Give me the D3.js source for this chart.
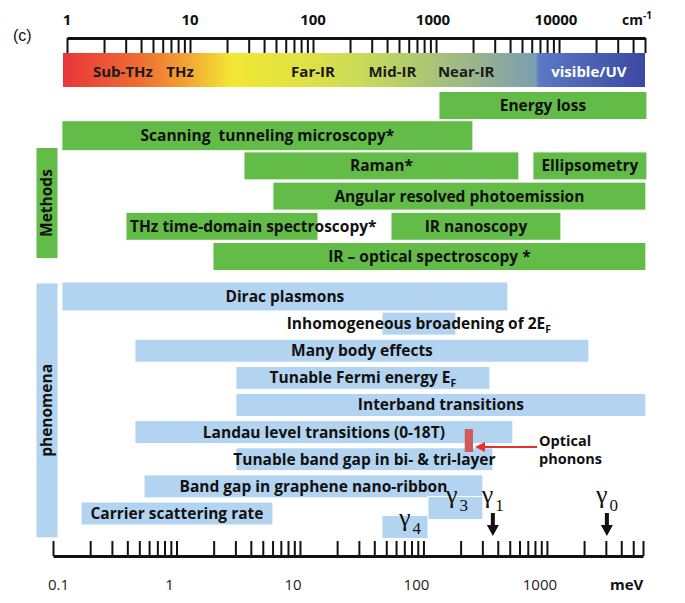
<!DOCTYPE html>
<html><head><meta charset="utf-8">
<script src="https://cdn.jsdelivr.net/npm/d3@7"></script>
<style>body{margin:0;background:#fff} svg{display:block}</style>
</head><body><svg id="c" width="685" height="603"></svg>
<script>
// ---------- data ----------
const cmTickValues = [1, 10, 100, 1000, 10000];
const cmTickLabels = ["1", "10", "100", "1000", "10000"];
const cmMax = 50000;
const meVTickValues = [0.1, 1, 10, 100, 1000];
const meVTickLabels = ["0.1", "1", "10", "100", "1000"];
const meVMax = 6000;

const bandNames = ["Sub-THz", "THz", "Far-IR", "Mid-IR", "Near-IR", "visible/UV"];
const bandCenters = [2.85, 8.3, 100, 442, 1760, 17500]; // cm^-1

const methodNames = ["Energy loss", "Scanning  tunneling microscopy*", "Raman*", "Ellipsometry",
  "Angular resolved photoemission", "THz time-domain spectroscopy*", "IR nanoscopy", "IR \u2013 optical spectroscopy *"];
const methodFrom = [133.5, 0.118, 3.52, 770, 6.04, 0.39, 54.6, 1.975];   // meV
const methodTo   = [6455, 251.6, 593, 6455, 6333, 14.0, 1298, 6333];     // meV
const methodRow  = [0, 1, 2, 2, 3, 4, 4, 5];

const phenNames = ["Dirac plasmons", "Inhomogeneous broadening of 2E_F", "Many body effects",
  "Tunable Fermi energy E_F", "Interband transitions", "Landau level transitions (0-18T)",
  "Tunable band gap in bi- & tri-layer", "Band gap in graphene nano-ribbon", "Carrier scattering rate", "", ""];
const phenFrom = [0.118, 46.1, 0.461, 3.03, 3.03, 0.461, 3.03, 0.546, 0.1686, 108.7, 46.1];
const phenTo   = [483, 183, 2188, 345.5, 6333, 530, 365, 303, 6.04, 303, 108.7];
const phenRow  = [0, 1, 2, 3, 4, 5, 6, 7, 8, 7.8, 8.5];

const groupNames = ["Methods", "phenomena"];

const phononFrom = 216, phononTo = 252, phononRow = 5.31;

const gammaSubs = ["4", "3", "1", "0"];
const gammaEnergy = [78, 187, 365, 3060]; // meV
const gammaArrow = [false, false, true, true];

// ---------- drawing ----------
const svg = d3.select("#c");
const FONT = "'Open Sans', Lato, sans-serif";
const GREEN = "#63bc47", BLUE = "#b3d4f0";
const FS = 15.5;

const xTop = d3.scaleLog().domain([1, cmMax]).range([67, 645]);
const xBot = d3.scaleLog().domain([0.1, meVMax]).range([53, 643]);
const yMeth = d3.scaleLinear().domain([0, 5]).range([105.5, 256.5]);
const yPhen = d3.scaleLinear().domain([0, 8]).range([296.5, 513.5]);

function minorTicks(majors, max) {
  const out = [];
  majors.forEach(d => { for (let k = 1; k <= 9; k++) { const v = d * k; if (v <= max * 1.0001) out.push(v); } });
  return out;
}

// (c)
svg.append("text").attr("x", 13).attr("y", 41).attr("font-family", "'Liberation Sans', Arial, sans-serif")
  .attr("font-size", 16).attr("fill", "#111").text("(c)");

// colour bar
const defs = svg.append("defs");
const grad = defs.append("linearGradient").attr("id", "spec").attr("x1", "0%").attr("x2", "100%");
[[0, "#e8363a"], [0.13, "#ee6c33"], [0.21, "#f3a233"], [0.29, "#f2e733"], [0.42, "#dde245"],
 [0.52, "#c8da5c"], [0.6, "#b1cb6d"], [0.7, "#9bb689"], [0.8, "#7fa0ad"], [0.812, "#7c9db2"],
 [0.818, "#5a79c4"], [1, "#3b48a3"]].forEach(s => grad.append("stop").attr("offset", s[0]).attr("stop-color", s[1]));
const cbX0 = xTop.range()[0] - 4, cbX1 = xTop.range()[1];
svg.append("rect").attr("x", cbX0).attr("y", 53).attr("width", cbX1 - cbX0).attr("height", 34).attr("fill", "url(#spec)");
svg.selectAll(".band").data(bandNames).join("text")
  .attr("x", (d, i) => xTop(bandCenters[i])).attr("y", 72).attr("dy", "0.35em")
  .attr("text-anchor", "middle").attr("font-family", FONT).attr("font-weight", "bold").attr("font-size", 15)
  .attr("fill", (d, i) => i === 5 ? "#fff" : "#1a1a1a").text(d => d);

// top axis
const topAxis = svg.append("g").attr("transform", "translate(0,38)")
  .call(d3.axisBottom(xTop).tickValues(minorTicks(cmTickValues, cmMax)).tickSize(15).tickSizeOuter(0).tickFormat(""));
topAxis.select(".domain").attr("stroke", "#111").attr("stroke-width", 3);
topAxis.selectAll(".tick line").attr("stroke", "#111").attr("stroke-width", 2);
svg.selectAll(".toplab").data(cmTickLabels).join("text")
  .attr("x", (d, i) => xTop(cmTickValues[i]) - (i > 2 ? 3 : 0)).attr("y", 25).attr("text-anchor", "middle")
  .attr("font-family", FONT).attr("font-weight", "bold").attr("font-size", 15).attr("fill", "#111").text(d => d);
const cmLab = svg.append("text").attr("x", 622).attr("y", 25).attr("font-family", FONT)
  .attr("font-weight", "bold").attr("font-size", 14).attr("fill", "#111");
cmLab.append("tspan").text("cm");
cmLab.append("tspan").attr("dy", -6).attr("font-size", 10).text("-1");

// bottom axis
const botAxis = svg.append("g").attr("transform", "translate(0,556)")
  .call(d3.axisTop(xBot).tickValues(minorTicks(meVTickValues, meVMax)).tickSize(15).tickSizeOuter(0).tickFormat(""));
botAxis.select(".domain").attr("stroke", "#111").attr("stroke-width", 3);
botAxis.selectAll(".tick line").attr("stroke", "#111").attr("stroke-width", 2);
svg.selectAll(".botlab").data(meVTickLabels).join("text")
  .attr("x", (d, i) => i === 0 ? xBot(meVTickValues[i]) - 5 : xBot(meVTickValues[i]) - 7)
  .attr("y", 590).attr("text-anchor", (d, i) => i === 0 ? "start" : "middle")
  .attr("font-family", FONT).attr("font-size", 15).attr("fill", "#222").text(d => d);
svg.append("text").attr("x", 610).attr("y", 590).attr("font-family", FONT).attr("font-weight", "bold")
  .attr("font-size", 15).attr("fill", "#111").text("meV");

// label writer with subscript support
function writeLabel(sel, name) {
  const parts = name.split("_");
  sel.append("tspan").text(parts[0]);
  if (parts.length > 1) sel.append("tspan").attr("font-size", 10.5).attr("dy", 4).text(parts[1]);
}

function drawBars(names, from, to, rows, yScale, hFn, color, leftOnOverflow) {
  const g = svg.append("g");
  names.forEach((n, i) => {
    const x0 = xBot(from[i]), x1 = xBot(to[i]);
    const h = hFn(i);
    g.append("rect").attr("x", x0).attr("y", yScale(rows[i]) - h / 2).attr("width", x1 - x0).attr("height", h)
      .attr("fill", color).attr("stroke", "#fff").attr("stroke-width", 1);
  });
  names.forEach((n, i) => {
    if (!n) return;
    const x0 = xBot(from[i]), x1 = xBot(to[i]);
    const t = g.append("text").attr("x", (x0 + x1) / 2).attr("y", yScale(rows[i])).attr("dy", "0.35em")
      .attr("text-anchor", "middle").attr("font-family", FONT).attr("font-weight", "bold")
      .attr("font-size", FS).attr("fill", "#111").attr("xml:space", "preserve").style("white-space", "pre");
    writeLabel(t, n);
    const w = t.node().getComputedTextLength();
    if (leftOnOverflow && w > x1 - x0) t.attr("text-anchor", "start").attr("x", x0 + 4);
  });
}

drawBars(methodNames, methodFrom, methodTo, methodRow, yMeth, i => (i === 1 ? 30 : 28), GREEN, true);
drawBars(phenNames, phenFrom, phenTo, phenRow, yPhen, i => (i === 0 ? 29 : 23), BLUE, false);

// group label boxes
const groupBoxes = [[yMeth(1.39), yMeth(5.07)], [yPhen(-0.5), yPhen(8.9)]];
groupNames.forEach((n, i) => {
  const [y0, y1] = groupBoxes[i];
  svg.append("rect").attr("x", 36).attr("y", y0).attr("width", 22).attr("height", y1 - y0)
    .attr("fill", i === 0 ? GREEN : BLUE).attr("stroke", "#fff").attr("stroke-width", 1);
  svg.append("text").attr("transform", `translate(47,${(y0 + y1) / 2}) rotate(-90)`).attr("dy", "0.35em")
    .attr("text-anchor", "middle").attr("font-family", FONT).attr("font-weight", "bold").attr("font-size", FS)
    .attr("fill", "#111").text(n);
});

// optical phonons
const pX0 = xBot(phononFrom), pX1 = xBot(phononTo), pY = yPhen(phononRow);
svg.append("rect").attr("x", pX0).attr("y", pY - 11.5).attr("width", pX1 - pX0).attr("height", 23).attr("fill", "#d05a5c");
svg.append("line").attr("x1", 537).attr("x2", pX1 + 8).attr("y1", pY + 6.5).attr("y2", pY + 6.5)
  .attr("stroke", "#e8302c").attr("stroke-width", 2);
svg.append("path").attr("d", `M${pX1 + 2},${pY + 6.5} l10,-5 l0,10 z`).attr("fill", "#e8302c");
const opt = svg.append("text").attr("font-family", FONT).attr("font-weight", "bold").attr("font-size", 14.5).attr("fill", "#111");
opt.append("tspan").attr("x", 539).attr("y", 446).text("Optical");
opt.append("tspan").attr("x", 539).attr("y", 464).text("phonons");

// gamma labels and arrows
gammaSubs.forEach((s, i) => {
  const x = xBot(gammaEnergy[i]);
  const base = i === 0 ? 526 : 503;
  const t = svg.append("text").attr("x", x).attr("y", base).attr("text-anchor", "middle")
    .attr("font-family", "'Liberation Serif', 'Times New Roman', serif").attr("font-size", 26).attr("fill", "#111");
  t.append("tspan").text("\u03b3");
  t.append("tspan").attr("font-size", 17).attr("dy", 8).attr("dx", 2).text(s);
  if (gammaArrow[i]) {
    svg.append("path").attr("d", `M${x - 2},513 L${x + 2},513 L${x + 2},525 L${x + 6},525 L${x},536 L${x - 6},525 L${x - 2},525 Z`)
      .attr("fill", "#111");
  }
});
</script></body></html>
